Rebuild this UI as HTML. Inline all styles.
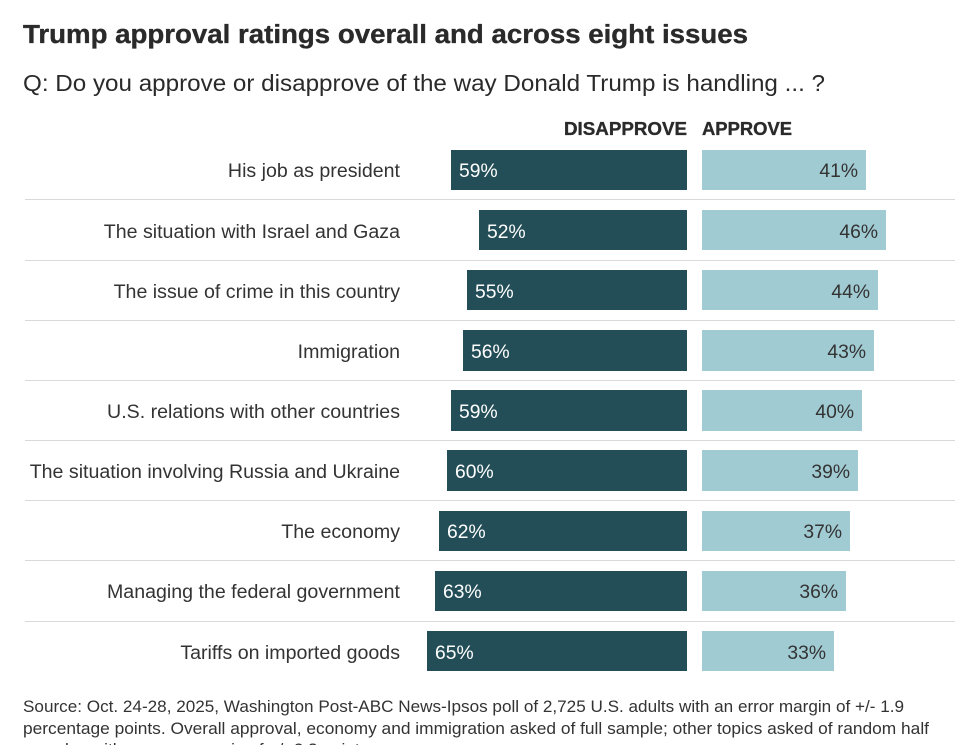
<!DOCTYPE html>
<html lang="en">
<head>
<meta charset="utf-8">
<title>Trump approval ratings</title>
<style>
html,body{margin:0;padding:0;background:#fff;width:955px;height:745px;overflow:hidden}
svg{display:block;font-family:"Liberation Sans",sans-serif}
</style>
</head>
<body>
<svg id="chart" width="955" height="745" viewBox="0 0 955 745">
  <text x="23" y="43" font-size="25.5" font-weight="700" fill="#2a2a2a" stroke="#2a2a2a" stroke-width="0.35" textLength="725" lengthAdjust="spacingAndGlyphs">Trump approval ratings overall and across eight issues</text>
  <text x="23" y="91" font-size="23" fill="#2a2a2a" textLength="802" lengthAdjust="spacingAndGlyphs">Q: Do you approve or disapprove of the way Donald Trump is handling ... ?</text>
  <text x="687" y="135" text-anchor="end" font-size="18" font-weight="700" fill="#2a2a2a" stroke="#2a2a2a" stroke-width="0.35" textLength="123" lengthAdjust="spacingAndGlyphs">DISAPPROVE</text>
  <text x="702" y="135" font-size="18" font-weight="700" fill="#2a2a2a" stroke="#2a2a2a" stroke-width="0.35" textLength="90" lengthAdjust="spacingAndGlyphs">APPROVE</text>
  <g id="rows"></g>
  <g font-size="16.5" fill="#333">
    <text x="23" y="712" textLength="881" lengthAdjust="spacingAndGlyphs">Source: Oct. 24-28, 2025, Washington Post-ABC News-Ipsos poll of 2,725 U.S. adults with an error margin of +/- 1.9</text>
    <text x="23" y="734" textLength="906" lengthAdjust="spacingAndGlyphs">percentage points. Overall approval, economy and immigration asked of full sample; other topics asked of random half</text>
    <text x="23" y="755" textLength="350" lengthAdjust="spacingAndGlyphs">samples with an error margin of +/- 2.3 points.</text>
  </g>
</svg>
<script>
const categories = ["His job as president","The situation with Israel and Gaza","The issue of crime in this country","Immigration","U.S. relations with other countries","The situation involving Russia and Ukraine","The economy","Managing the federal government","Tariffs on imported goods"];
const disapprove = [59,52,55,56,59,60,62,63,65];
const approve = [41,46,44,43,40,39,37,36,33];

const NS = "http://www.w3.org/2000/svg";
const root = document.getElementById("rows");
const pxPerPoint = 4;
const disapproveBase = 687;
const approveBase = 702;
const barTop = i => Math.round(149.9 + 60.1 * i);
const barBottom = i => Math.round(149.9 + 60.1 * i + 40.3);
const baseline = i => Math.floor(177.9 + 60.15 * i);
const separatorY = i => Math.floor(199.9 + 60.16 * i);
const lengthOf = v => v * pxPerPoint;
function node(tag, attrs, text) {
  const el = document.createElementNS(NS, tag);
  for (const k in attrs) el.setAttribute(k, attrs[k]);
  if (text !== undefined) el.textContent = text;
  root.appendChild(el);
  return el;
}
categories.forEach((cat, i) => {
  const top = barTop(i);
  const h = barBottom(i) - top;
  const mid = baseline(i);
  const label = node("text", {x: 400, y: mid, "text-anchor": "end", "font-size": 19.6, fill: "#333"}, cat);
  
  
  const dw = lengthOf(disapprove[i]);
  const dBar = node("rect", {x: disapproveBase - dw, y: top, width: dw, height: h, fill: "#234e57"});
  
  
  const dVal = node("text", {x: disapproveBase - dw + 8, y: mid, "font-size": 19.3, fill: "#fff"}, disapprove[i] + "%");
  
  
  const aw = lengthOf(approve[i]);
  const aBar = node("rect", {x: approveBase, y: top, width: aw, height: h, fill: "#a1cbd3"});
  
  
  const aVal = node("text", {x: approveBase + aw - 8, y: mid, "text-anchor": "end", "font-size": 19.3, fill: "#333"}, approve[i] + "%");
  
  
  if (i < categories.length - 1) {
    const sep = node("rect", {x: 25, y: separatorY(i), width: 930, height: 1, fill: "#d9d9d9"});
    
    
  }
});
</script>
</body>
</html>
